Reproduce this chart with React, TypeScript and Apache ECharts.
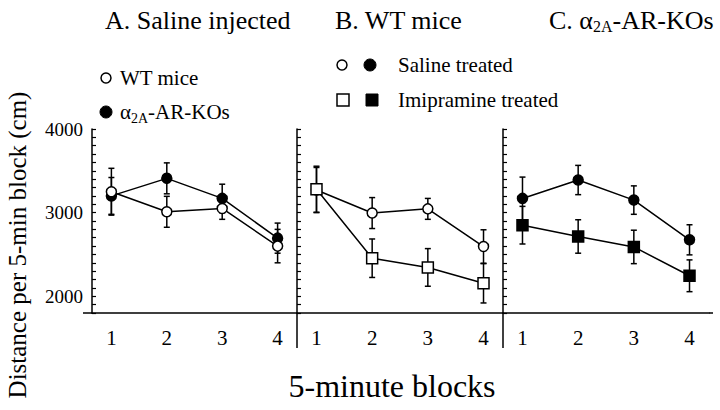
import React, { useEffect, useRef } from "react";
import * as echarts from "echarts";

const FONT = '"Liberation Serif", "Times New Roman", serif';

const blocks = [1, 2, 3, 4];
const yTickLabels = [2000, 3000, 4000];

// Panel A: saline injected
const aWT = [3250, 3010, 3050, 2600];
const aWTErr = [280, 185, 130, 200];
const aKO = [3200, 3410, 3170, 2695];
const aKOErr = [220, 185, 170, 180];

// Panel B: WT mice
const bSaline = [3270, 2995, 3045, 2595];
const bSalineErr = [270, 185, 125, 200];
const bImip = [3280, 2455, 2345, 2155];
const bImipErr = [275, 230, 225, 235];

// Panel C: alpha2A-AR-KOs
const cSaline = [3170, 3390, 3150, 2675];
const cSalineErr = [255, 175, 170, 180];
const cImip = [2850, 2715, 2590, 2245];
const cImipErr = [225, 200, 200, 190];

const pts = (v: number[]) => blocks.map((b, i) => [b, v[i]]);
const errs = (v: number[], e: number[]) => blocks.map((b, i) => [b, v[i] - e[i], v[i] + e[i]]);

const renderErr = (params: any, api: any) => {
  const x = api.value(0);
  const lo = api.value(1);
  const hi = api.value(2);
  const top = api.coord([x, hi]);
  const bot = api.coord([x, lo]);
  const cw = 3;
  const style = { stroke: "#000", lineWidth: 1.5 };
  return {
    type: "group",
    children: [
      { type: "line", shape: { x1: top[0], y1: top[1], x2: bot[0], y2: bot[1] }, style },
      { type: "line", shape: { x1: top[0] - cw, y1: top[1], x2: top[0] + cw, y2: top[1] }, style },
      { type: "line", shape: { x1: bot[0] - cw, y1: bot[1], x2: bot[0] + cw, y2: bot[1] }, style },
    ],
  };
};

const lineSeries = (idx: number, v: number[], symbol: string, filled: boolean, z: number) => ({
  type: "line",
  xAxisIndex: idx,
  yAxisIndex: idx,
  data: pts(v),
  symbol,
  symbolSize: symbol === "rect" ? 11 : 10,
  showSymbol: true,
  lineStyle: { color: "#000", width: 1.5 },
  itemStyle: { color: filled ? "#000" : "#fff", borderColor: "#000", borderWidth: 1.5 },
  z,
});

const errSeries = (idx: number, v: number[], e: number[]) => ({
  type: "custom",
  xAxisIndex: idx,
  yAxisIndex: idx,
  data: errs(v, e),
  encode: { x: 0, y: [1, 2] },
  renderItem: renderErr,
  z: 2,
});

export default function App() {
  const ref = useRef<HTMLDivElement>(null);
  useEffect(() => {
    if (!ref.current) return;
    const chart = echarts.init(ref.current, null, { renderer: "svg" });
    const grids = [
      { left: 92, top: 129, width: 205, height: 184 },
      { left: 297, top: 129, width: 206, height: 184 },
      { left: 503, top: 129, width: 206, height: 184 },
    ];
    const xAxes = grids.map((_, i) => ({
      type: "value",
      gridIndex: i,
      min: 0.65,
      max: 4.35,
      axisLine: { show: true, lineStyle: { color: "#000", width: 1.5 } },
      axisTick: { show: false },
      splitLine: { show: false },
      axisLabel: {
        customValues: blocks,
        formatter: (v: number) => String(v),
        color: "#000",
        fontFamily: FONT,
        fontSize: 21,
        margin: 14,
      },
    }));
    const yAxes = grids.map((_, i) => ({
      type: "value",
      gridIndex: i,
      min: 1800,
      max: 4000,
      interval: 100,
      axisLine: { show: true, lineStyle: { color: "#000", width: 1.5 } },
      axisTick: { show: true, inside: true, length: 4, lineStyle: { color: "#000", width: 1.2 } },
      splitLine: { show: false },
      axisLabel: {
        show: i === 0,
        customValues: yTickLabels,
        formatter: (v: number) => String(v),
        color: "#000",
        fontFamily: FONT,
        fontSize: 19,
        margin: 9,
      },
    }));
    const txt = (x: number, y: number, text: string, size: number, extra: any = {}) => ({
      type: "text",
      x,
      y,
      style: {
        text,
        fontFamily: FONT,
        fontSize: size,
        fill: "#000",
        align: "left",
        verticalAlign: "middle",
        ...extra,
      },
    });
    const subRich = (s: number) => ({
      sub: { fontFamily: FONT, fontSize: s, padding: [12, 0, 0, 0], fill: "#000" },
    });
    const graphic: any[] = [
      txt(105, 20, "A. Saline injected", 26),
      txt(335, 20, "B. WT mice", 26),
      { type: "text", x: 549, y: 20, style: { text: "C. α{sub|2A}-AR-KOs", rich: subRich(16), fontFamily: FONT, fontSize: 26, fill: "#000", align: "left", verticalAlign: "middle" } },
      // Panel A legend
      { type: "circle", shape: { cx: 106, cy: 78, r: 5 }, style: { fill: "#fff", stroke: "#000", lineWidth: 1.5 } },
      txt(120, 78, "WT mice", 21),
      { type: "circle", shape: { cx: 106, cy: 112, r: 6 }, style: { fill: "#000", stroke: "#000", lineWidth: 1 } },
      { type: "text", x: 120, y: 112, style: { text: "α{sub|2A}-AR-KOs", rich: subRich(14), fontFamily: FONT, fontSize: 21, fill: "#000", align: "left", verticalAlign: "middle" } },
      // Panel B/C legend
      { type: "circle", shape: { cx: 342, cy: 65, r: 5 }, style: { fill: "#fff", stroke: "#000", lineWidth: 1.5 } },
      { type: "circle", shape: { cx: 370, cy: 65, r: 6 }, style: { fill: "#000", stroke: "#000", lineWidth: 1 } },
      txt(398, 65, "Saline treated", 21),
      { type: "rect", shape: { x: 337, y: 94, width: 12, height: 12 }, style: { fill: "#fff", stroke: "#000", lineWidth: 1.5 } },
      { type: "rect", shape: { x: 366, y: 94, width: 12, height: 12 }, style: { fill: "#000", stroke: "#000", lineWidth: 1 } },
      txt(398, 100, "Imipramine treated", 21),
      // axis titles
      txt(392, 386, "5-minute blocks", 32, { align: "center" }),
      { type: "text", x: 17, y: 245, rotation: Math.PI / 2, style: { text: "Distance per 5-min block (cm)", fontFamily: FONT, fontSize: 25, fill: "#000", align: "center", verticalAlign: "middle" } },
      // panel dividers below axis and axis extensions
      { type: "line", shape: { x1: 297, y1: 313, x2: 297, y2: 348 }, style: { stroke: "#000", lineWidth: 1.5 } },
      { type: "line", shape: { x1: 503, y1: 313, x2: 503, y2: 348 }, style: { stroke: "#000", lineWidth: 1.5 } },
      { type: "line", shape: { x1: 83, y1: 313, x2: 92, y2: 313 }, style: { stroke: "#000", lineWidth: 1.5 } },
      { type: "line", shape: { x1: 709, y1: 313, x2: 713, y2: 313 }, style: { stroke: "#000", lineWidth: 1.5 } },
    ];
    chart.setOption({
      animation: false,
      backgroundColor: "#fff",
      grid: grids,
      xAxis: xAxes,
      yAxis: yAxes,
      graphic,
      series: [
        errSeries(0, aKO, aKOErr),
        errSeries(0, aWT, aWTErr),
        lineSeries(0, aKO, "circle", true, 3),
        lineSeries(0, aWT, "circle", false, 4),
        errSeries(1, bSaline, bSalineErr),
        errSeries(1, bImip, bImipErr),
        lineSeries(1, bSaline, "circle", false, 3),
        lineSeries(1, bImip, "rect", false, 4),
        errSeries(2, cSaline, cSalineErr),
        errSeries(2, cImip, cImipErr),
        lineSeries(2, cSaline, "circle", true, 3),
        lineSeries(2, cImip, "rect", true, 4),
      ],
    });
    return () => chart.dispose();
  }, []);
  return <div ref={ref} style={{ width: 720, height: 410, position: "absolute", left: 0, top: 0 }} />;
}
